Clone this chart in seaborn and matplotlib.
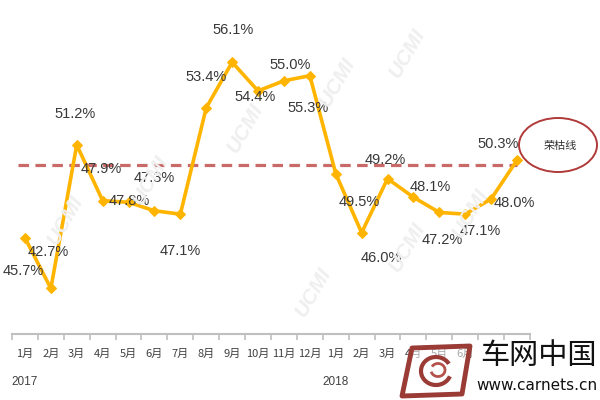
import matplotlib
matplotlib.use("Agg")
import matplotlib.pyplot as plt
from matplotlib.patches import Ellipse, Polygon, Arc
import seaborn as sns
import pandas as pd
import numpy as np

# ---- data ----
months = ["1月", "2月", "3月", "4月", "5月", "6月", "7月", "8月", "9月", "10月", "11月", "12月",
          "1月", "2月", "3月", "4月", "5月", "6月", "7月", "8月"]
years = ["2017", "2018"]
year_start_idx = [0, 12]
values = [45.7, 42.7, 51.2, 47.9, 47.8, 47.3, 47.1, 53.4, 56.1, 54.4, 55.0, 55.3,
          49.5, 46.0, 49.2, 48.1, 47.2, 47.1, 48.0, 50.3]
threshold = 50.0
threshold_label = "荣枯线"

# label offsets in pixels (dx, dy) relative to each point
label_offsets = [(-2, -33), (-3, 36), (-2, 31), (-1, 32), (1, 1), (0, 33), (0, -37),
                 (0, 31), (1, 32), (-3, -6), (6, 16), (-2, -32), (24, -28), (20, -25),
                 (-2, 19), (17, 10), (3, -28), (15, -17), (23, -4), (-19, 16)]

sns.set_theme(style="white")
plt.rcParams['font.family'] = ['Noto Sans CJK SC', 'DejaVu Sans']
num_font = ['Liberation Sans Narrow', 'Liberation Sans', 'DejaVu Sans']

fig = plt.figure(figsize=(6, 4), dpi=100)
ax = fig.add_axes([0.02, 0.165, 0.8633, 0.785])

df = pd.DataFrame({"idx": np.arange(len(values)), "value": values})
sns.lineplot(data=df, x="idx", y="value", ax=ax, color="#FFB400", lw=2.6,
             marker="D", markersize=5, markeredgecolor="#FFB400", zorder=3)

ax.hlines(threshold, -0.27, len(values) - 1, colors="#C0504D", linestyles=(0, (3.3, 2.0)),
          lw=2.3, alpha=0.85, zorder=2)

for i, (v, (dx, dy)) in enumerate(zip(values, label_offsets)):
    ax.annotate(f"{v:.1f}%", xy=(i, v), xytext=(dx, dy), textcoords="offset pixels",
                ha="center", va="center", fontsize=10.5, color="#383838",
                family=num_font, zorder=4)

ax.set_xlim(-0.5, len(values) - 0.5)
ax.set_ylim(40, 58.6)
ax.set_xlabel("")
ax.set_ylabel("")
ax.set_yticks([])
ax.set_xticks(np.arange(len(values) + 1) - 0.5)
ax.set_xticklabels([])
ax.set_xticks(np.arange(len(values)), minor=True)
ax.set_xticklabels(months, minor=True, fontsize=8, color="#404040")
ax.tick_params(axis="x", which="major", length=4, width=1.2, color="#BFBFBF", bottom=True, direction="out")
ax.tick_params(axis="x", which="minor", length=0, pad=11)
for s in ["top", "right", "left"]:
    ax.spines[s].set_visible(False)
ax.spines["bottom"].set_color("#BFBFBF")
ax.spines["bottom"].set_linewidth(1.5)

for yr, idx in zip(years, year_start_idx):
    ax.annotate(yr, xy=(idx, 0), xycoords=("data", "axes fraction"), xytext=(0, -48),
                textcoords="offset pixels", ha="center", va="center", fontsize=8.5,
                color="#404040", family=num_font)

# watermarks
for (px, py) in [(65, 220), (150, 180), (245, 128), (337, 82), (407, 53),
                 (313, 292), (407, 247), (470, 213)]:
    fig.text(px / 600, 1 - py / 400, "UCMI", rotation=60, fontsize=15, color="#EFEFEF",
             ha="center", va="center", style="italic", weight="bold", family=num_font, zorder=0)

# threshold ellipse
ell = Ellipse((558 / 600, 1 - 145 / 400), 78 / 600, 54 / 400, transform=fig.transFigure,
              fill=False, edgecolor="#B03A3A", lw=1.4)
fig.add_artist(ell)
fig.text(560 / 600, 1 - 146 / 400, threshold_label, fontsize=8, color="#333333",
         ha="center", va="center")

# logo icon (simplified)
icon_pts = [(412, 348), (470, 346), (462, 394), (402, 396)]
icon = Polygon([(x / 600, 1 - y / 400) for x, y in icon_pts], closed=True,
               transform=fig.transFigure, facecolor=(1, 1, 1, 0.55), edgecolor="#9A3B36",
               lw=3.5, joinstyle="round", zorder=9)
fig.add_artist(icon)
arc = Arc((436 / 600, 1 - 371 / 400), 30 / 600, 28 / 400, theta1=40, theta2=330,
          transform=fig.transFigure, edgecolor="#9A3B36", lw=3.0, zorder=10)
fig.add_artist(arc)
arc2 = Arc((438 / 600, 1 - 370 / 400), 14 / 600, 13 / 400, theta1=200, theta2=500,
           transform=fig.transFigure, edgecolor="#B5524C", lw=2.0, zorder=10)
fig.add_artist(arc2)

# logo text
fig.text(538 / 600, 1 - 356 / 400, "车网中国", fontsize=21, color="#111111",
         ha="center", va="center", zorder=10,
         bbox=dict(boxstyle="square,pad=0.05", fc="white", ec="none"))
fig.text(537 / 600, 1 - 385 / 400, "www.carnets.cn", fontsize=11, color="#111111",
         ha="center", va="center", family=['DejaVu Sans'], zorder=10)

fig.savefig("out.png", dpi=100)
